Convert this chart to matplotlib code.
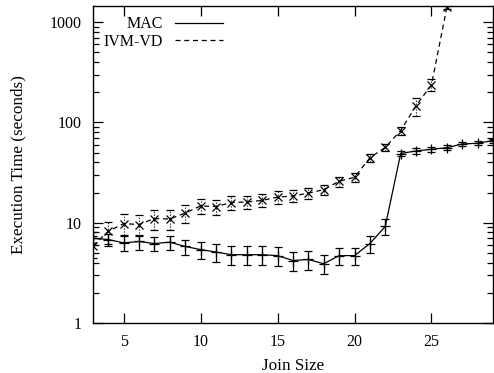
import matplotlib
matplotlib.use("Agg")
import matplotlib.pyplot as plt
from matplotlib.lines import Line2D
from matplotlib.ticker import LogLocator, FixedLocator, NullFormatter

plt.rcParams['font.family'] = ['Liberation Serif', 'DejaVu Serif']
plt.rcParams['font.size'] = 11.5

join_size = list(range(3, 30))
mac = [7.0, 6.8, 6.3, 6.5, 6.2, 6.4, 5.8, 5.4, 5.1, 4.8, 4.8, 4.8, 4.7, 4.2, 4.3, 3.9,
       4.7, 4.7, 6.2, 9.2, 49, 52, 54, 56, 61, 62, 66]
mac_err = [1.0, 1.0, 1.1, 1.1, 1.0, 1.0, 1.0, 1.05, 1.0, 1.0, 1.0, 1.0, 1.0, 0.9, 0.9, 0.85,
           0.9, 0.9, 1.2, 1.7, 3, 3, 3, 3, 3, 3, 3]
ivm_x = list(range(3, 27))
ivm = [5.9, 8.2, 9.8, 9.6, 11.0, 10.9, 12.5, 14.7, 14.5, 15.9, 16.1, 16.7, 18.0, 18.5,
       19.7, 21.4, 25.9, 28.4, 44.4, 56.5, 83, 147, 237, 1400]
ivm_err = [1.5, 2.0, 2.3, 2.3, 2.5, 2.5, 2.5, 2.6, 2.5, 2.5, 2.5, 2.5, 2.5, 2.5,
           2.5, 2.5, 3, 3, 4, 5, 8, 30, 33, 50]

fig = plt.figure(figsize=(4.94, 3.73), dpi=100)
ax = fig.add_axes([0.188, 0.134, 0.81, 0.85])

eb1 = ax.errorbar(join_size, mac, yerr=mac_err, color='black', lw=0.9, marker='+',
                  ms=7, mew=0.9, capsize=3, elinewidth=0.9, capthick=0.9)
eb2 = ax.errorbar(ivm_x, ivm, yerr=ivm_err, color='black', lw=0.9, ls=(0, (4, 3)),
                  marker='x', ms=6, mew=0.9, capsize=3, elinewidth=0.8, capthick=0.8)
for c in eb2[2]:
    c.set_linestyle(':')

ax.set_yscale('log')
ax.set_xlim(3, 29)
ax.set_ylim(1, 1450)
ax.xaxis.set_major_locator(FixedLocator([5, 10, 15, 20, 25]))
ax.yaxis.set_major_locator(FixedLocator([1, 10, 100, 1000]))
ax.set_yticklabels(['1', '10', '100', '1000'])
ax.yaxis.set_minor_locator(LogLocator(base=10, subs=range(2, 10)))
ax.yaxis.set_minor_formatter(NullFormatter())
ax.tick_params(which='both', direction='in', top=True, right=True, labelsize=11.5)
ax.tick_params(which='major', length=7, width=0.9)
ax.tick_params(which='minor', length=4, width=0.9)
ax.tick_params(axis='y', which='major', pad=8)
ax.tick_params(axis='x', which='major', pad=8)
for s in ax.spines.values():
    s.set_linewidth(1.0)

ax.set_xlabel('Join Size', fontsize=12.3, labelpad=6)
ax.set_ylabel('Execution Time (seconds)', fontsize=12.3, labelpad=17)

handles = [Line2D([], [], color='black', lw=0.9),
           Line2D([], [], color='black', lw=0.9, ls=(0, (4, 3)))]
leg = ax.legend(handles, ['MAC', 'IVM-VD'], loc='upper left', markerfirst=False,
                frameon=False, handlelength=3.0, handletextpad=0.8, labelspacing=0.1,
                borderaxespad=0.0, fontsize=11.5, bbox_to_anchor=(0.01, 0.988))
for t in leg.get_texts():
    t.set_ha('right')

fig.savefig('out.png', dpi=100)
